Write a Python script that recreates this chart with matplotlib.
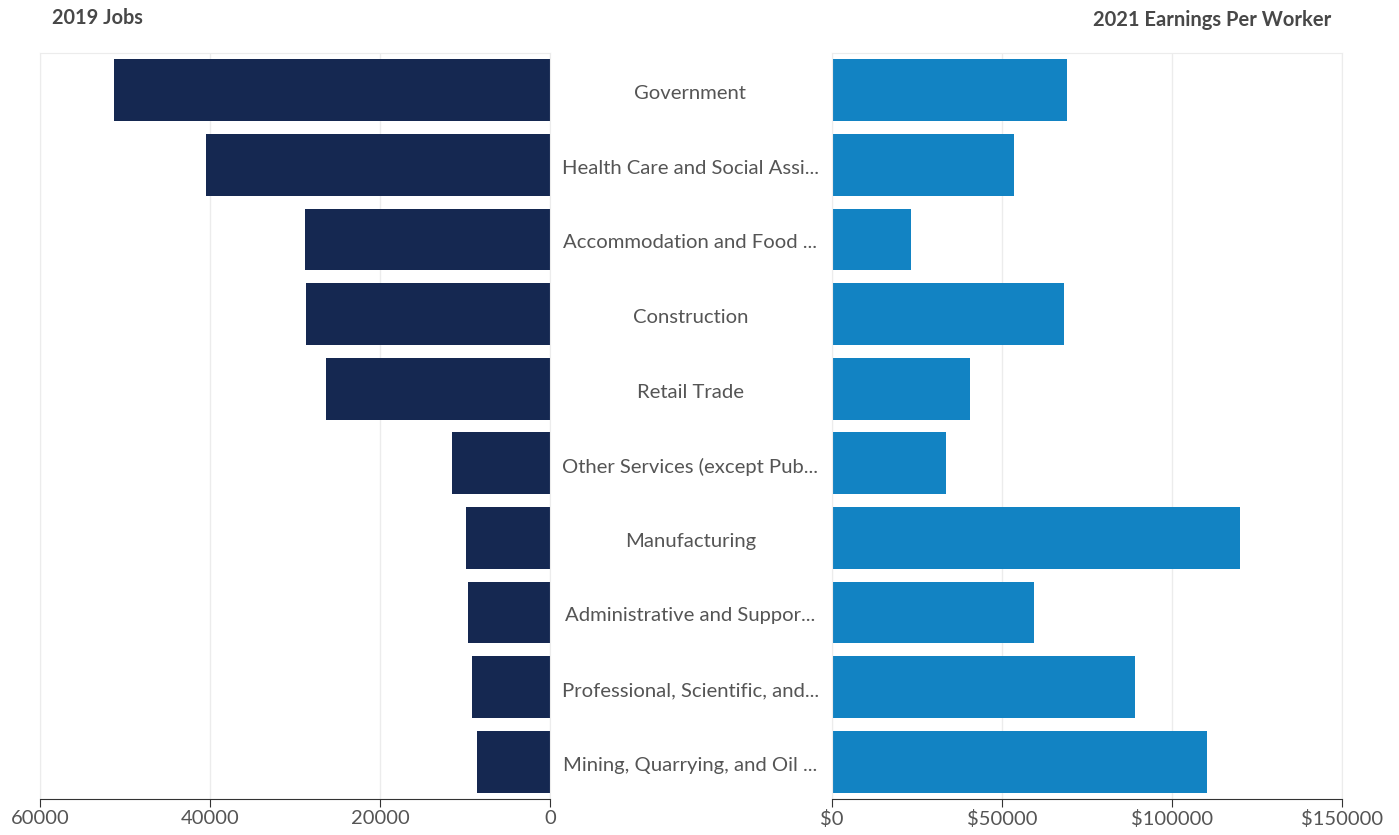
import matplotlib.pyplot as plt
import matplotlib.transforms as mtransforms
from matplotlib.ticker import FuncFormatter

industries = ["Government", "Health Care and Social Assi...", "Accommodation and Food ...",
              "Construction", "Retail Trade", "Other Services (except Pub...",
              "Manufacturing", "Administrative and Suppor...", "Professional, Scientific, and...",
              "Mining, Quarrying, and Oil ..."]
jobs_2019 = [51300, 40500, 28800, 28750, 26350, 11500, 9900, 9650, 9200, 8600]
earnings_2021 = [69100, 53500, 23300, 68200, 40700, 33500, 120000, 59400, 89100, 110300]

navy = "#152851"
blue = "#1283c3"
grey_txt = "#555555"
grid_c = "#ececec"

plt.rcParams['font.family'] = ['Lato', 'DejaVu Sans']

fig = plt.figure(figsize=(13.99, 8.35), dpi=100)
ax1 = fig.add_axes([40 / 1399, 36 / 835, 510 / 1399, 746 / 835])
ax2 = fig.add_axes([832 / 1399, 36 / 835, 510 / 1399, 746 / 835])

ypos = list(range(len(industries)))

ax1.barh(ypos, jobs_2019, height=0.83, color=navy)
ax1.set_xlim(60000, 0)
ax1.set_xticks([60000, 40000, 20000, 0])
ax1.set_yticks([])

ax2.barh(ypos, earnings_2021, height=0.83, color=blue)
ax2.set_xlim(0, 150000)
ax2.set_xticks([0, 50000, 100000, 150000])
ax2.xaxis.set_major_formatter(FuncFormatter(lambda v, p: "$%d" % v))
ax2.set_yticks(ypos)
ax2.set_yticklabels(industries)
ax2.tick_params(axis='y', length=0, pad=102, labelsize=14.6, labelcolor=grey_txt)
shift = mtransforms.ScaledTranslation(0, -2 / 100, fig.dpi_scale_trans)
for lab in ax2.get_yticklabels():
    lab.set_ha('center')
    lab.set_va('center_baseline')
    lab.set_transform(lab.get_transform() + shift)

for ax in (ax1, ax2):
    ax.set_ylim(len(industries) - 0.5, -0.5)
    ax.grid(axis='x', color=grid_c, linewidth=1)
    ax.set_axisbelow(True)
    for s in ('top', 'left', 'right'):
        ax.spines[s].set_color(grid_c)
    ax.spines['bottom'].set_color("#333333")
    ax.tick_params(axis='x', length=6, color="#333333", labelsize=14.5, labelcolor=grey_txt, pad=2)

fig.text(52 / 1399, 1 - 18 / 835, "2019 Jobs", ha='left', va='center',
         fontsize=14.3, fontweight='bold', color="#484848")
fig.text(1331 / 1399, 1 - 20 / 835, "2021 Earnings Per Worker", ha='right', va='center',
         fontsize=14.5, fontweight='bold', color="#484848")

fig.savefig("out.png", dpi=100)
